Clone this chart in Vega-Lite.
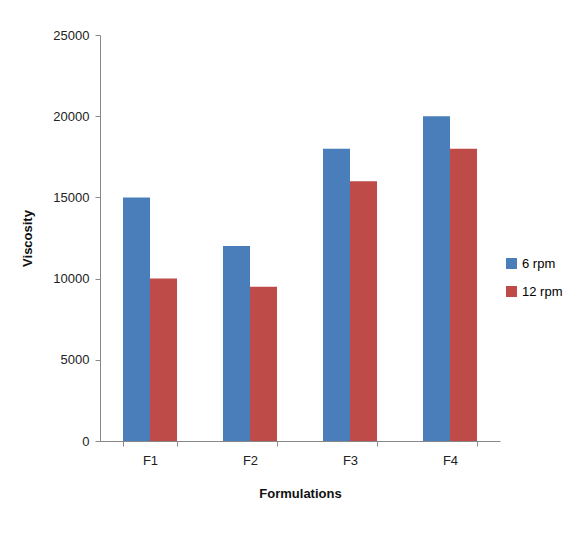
{
  "$schema": "https://vega.github.io/schema/vega-lite/v6.json",
  "width": 400,
  "height": 406,
  "autosize": "none",
  "padding": {"left": 100, "top": 35, "right": 81, "bottom": 101},
  "background": "white",
  "data": {
    "values": [
      {"f": "F1", "speed": "6 rpm", "v": 15000},
      {"f": "F1", "speed": "12 rpm", "v": 10000},
      {"f": "F2", "speed": "6 rpm", "v": 12000},
      {"f": "F2", "speed": "12 rpm", "v": 9500},
      {"f": "F3", "speed": "6 rpm", "v": 18000},
      {"f": "F3", "speed": "12 rpm", "v": 16000},
      {"f": "F4", "speed": "6 rpm", "v": 20000},
      {"f": "F4", "speed": "12 rpm", "v": 18000}
    ]
  },
  "mark": {"type": "bar"},
  "encoding": {
    "x": {
      "field": "f", "type": "nominal", "title": "Formulations",
      "scale": {"paddingInner": 0.46, "paddingOuter": 0.23},
      "axis": {"labelAngle": 0, "tickBand": "extent", "titleFontWeight": "bold", "titlePadding": 20, "labelPadding": 8}
    },
    "xOffset": {"field": "speed", "type": "nominal", "sort": ["6 rpm", "12 rpm"], "scale": {"paddingInner": 0, "paddingOuter": 0}},
    "y": {
      "field": "v", "type": "quantitative", "title": "Viscosity",
      "scale": {"domain": [0, 25000]},
      "axis": {"values": [0, 5000, 10000, 15000, 20000, 25000], "format": "d", "grid": false, "titleFontWeight": "bold", "titlePadding": 18, "labelPadding": 6}
    },
    "color": {
      "field": "speed", "type": "nominal", "sort": ["6 rpm", "12 rpm"],
      "scale": {"range": ["#4a7ebb", "#be4b48"]},
      "legend": {"title": null, "symbolType": "square", "symbolSize": 120, "labelFontSize": 13, "rowPadding": 14, "offset": 8, "orient": "none", "legendX": 405, "legendY": 222}
    }
  },
  "config": {
    "font": "Liberation Sans",
    "view": {"stroke": null},
    "axis": {"labelFontSize": 13, "titleFontSize": 13, "labelColor": "#222", "titleColor": "#111", "domainColor": "#888", "tickColor": "#888", "tickSize": 5}
  }
}
